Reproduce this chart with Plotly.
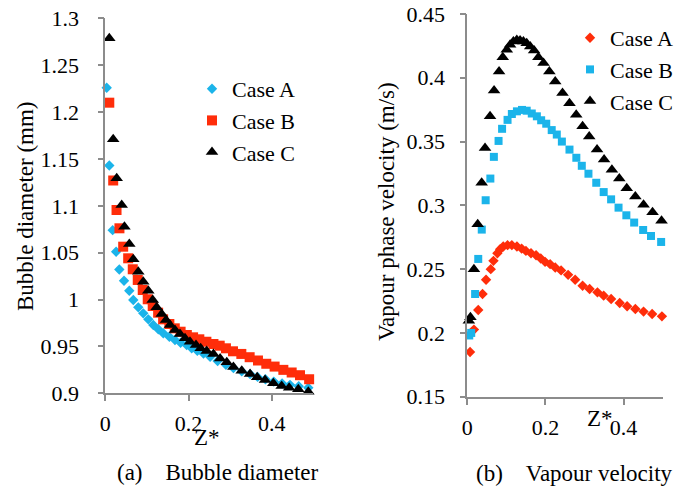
import plotly.graph_objects as go

# ---------------- (a) Bubble diameter ----------------
a_zA = [0.0034, 0.0096, 0.0177, 0.026, 0.0337, 0.045, 0.0577, 0.0673, 0.0793, 0.0913,
        0.1034, 0.1154, 0.1274, 0.1394, 0.154, 0.1675, 0.181, 0.1956, 0.2077, 0.2212,
        0.236, 0.252, 0.27, 0.29, 0.308, 0.328, 0.348, 0.366, 0.385, 0.405,
        0.425, 0.444, 0.465, 0.488]
a_dA = [1.226, 1.143, 1.074, 1.051, 1.032, 1.02, 1.0094, 0.9995, 0.9917, 0.9853,
        0.9789, 0.9729, 0.9683, 0.964, 0.9604, 0.9569, 0.954, 0.9515, 0.948, 0.9454,
        0.9425, 0.939, 0.9345, 0.9305, 0.927, 0.9235, 0.9205, 0.9175, 0.915, 0.9125,
        0.9105, 0.909, 0.9075, 0.906]

a_zB = [0.0096, 0.019, 0.027, 0.034, 0.043, 0.055, 0.066, 0.078, 0.09, 0.102,
        0.114, 0.127, 0.139, 0.154, 0.167, 0.181, 0.196, 0.211, 0.226, 0.243,
        0.26, 0.275, 0.29, 0.307, 0.327, 0.347, 0.367, 0.387, 0.407, 0.428,
        0.448, 0.468, 0.49]
a_dB = [1.21, 1.127, 1.0955, 1.076, 1.0564, 1.044, 1.0323, 1.0209, 1.0102, 1.0003,
        0.9931, 0.986, 0.9789, 0.9739, 0.9693, 0.9657, 0.9622, 0.9597, 0.9576, 0.955,
        0.9526, 0.9508, 0.948, 0.9448, 0.942, 0.9385, 0.935, 0.9315, 0.9285, 0.925,
        0.9222, 0.9193, 0.915]

a_zC = [0.0096, 0.019, 0.0274, 0.0394, 0.046, 0.0577, 0.0673, 0.0793, 0.0913, 0.1034,
        0.114, 0.1235, 0.1356, 0.146, 0.1555, 0.1675, 0.1796, 0.1916, 0.2036, 0.218,
        0.2293, 0.2437, 0.26, 0.276, 0.292, 0.308, 0.328, 0.348, 0.365, 0.384,
        0.404, 0.424, 0.442, 0.464, 0.488]
a_dC = [1.2787, 1.1709, 1.1293, 1.1009, 1.0777, 1.0593, 1.043, 1.0297, 1.019, 1.0094,
        0.9995, 0.9917, 0.9846, 0.9782, 0.9729, 0.9675, 0.9632, 0.9587, 0.955, 0.9515,
        0.948, 0.9451, 0.942, 0.937, 0.933, 0.9281, 0.9241, 0.9206, 0.917, 0.9142,
        0.9107, 0.9078, 0.906, 0.9043, 0.9017]

# ---------------- (b) Vapour velocity ----------------
b_zA = [0.007, 0.017, 0.028, 0.039, 0.048, 0.06, 0.067, 0.077, 0.084, 0.092,
        0.103, 0.114, 0.127, 0.139, 0.15, 0.163, 0.176, 0.188, 0.199, 0.212,
        0.225, 0.24, 0.258, 0.276, 0.295, 0.313, 0.333, 0.349, 0.368, 0.39,
        0.409, 0.43, 0.451, 0.473, 0.498]
b_vA = [0.185, 0.2026, 0.218, 0.2305, 0.2417, 0.25, 0.2565, 0.2625, 0.2656, 0.2677,
        0.2688, 0.2688, 0.2677, 0.2661, 0.2643, 0.2625, 0.2609, 0.2583, 0.2557, 0.2539,
        0.2513, 0.249, 0.2455, 0.2417, 0.237, 0.2344, 0.2318, 0.2292, 0.2266, 0.2234,
        0.2209, 0.2188, 0.2167, 0.2148, 0.213]

b_zB = [0.005, 0.01, 0.02, 0.028, 0.037, 0.047, 0.059, 0.068, 0.08, 0.089,
        0.103, 0.114, 0.127, 0.14, 0.152, 0.165, 0.178, 0.189, 0.202, 0.216,
        0.229, 0.242, 0.2615, 0.279, 0.293, 0.31, 0.33, 0.349, 0.368, 0.387,
        0.407, 0.427, 0.45, 0.47, 0.496]
b_vB = [0.198, 0.2, 0.2305, 0.258, 0.281, 0.304, 0.321, 0.338, 0.3505, 0.36,
        0.367, 0.3716, 0.3737, 0.3748, 0.3742, 0.372, 0.3698, 0.3667, 0.364, 0.359,
        0.3555, 0.35, 0.3437, 0.3373, 0.331, 0.3248, 0.3177, 0.3104, 0.3047, 0.2982,
        0.2922, 0.2865, 0.2807, 0.276, 0.2713]

b_zC = [0.004, 0.008, 0.017, 0.0266, 0.0368, 0.0454, 0.0582, 0.0685, 0.0813, 0.0907,
        0.101, 0.1095, 0.118, 0.1267, 0.135, 0.1436, 0.152, 0.161, 0.171, 0.182,
        0.195, 0.21, 0.225, 0.2436, 0.2615, 0.2787, 0.295, 0.312, 0.332, 0.35,
        0.37, 0.389, 0.408, 0.43, 0.451, 0.474, 0.497]
b_vC = [0.2096, 0.2122, 0.25, 0.2852, 0.3177, 0.345, 0.3698, 0.39, 0.405, 0.416,
        0.422, 0.4258, 0.4284, 0.4297, 0.4292, 0.4284, 0.4271, 0.4245, 0.4214, 0.416,
        0.4115, 0.405, 0.397, 0.388, 0.38, 0.371, 0.362, 0.354, 0.3437, 0.336,
        0.328, 0.321, 0.3135, 0.307, 0.3005, 0.2945, 0.288]

series_names = ["Case A", "Case B", "Case C"]

a_yticks = [0.9, 0.95, 1.0, 1.05, 1.1, 1.15, 1.2, 1.25, 1.3]
a_yticktext = ["0.9", "0.95", "1", "1.05", "1.1", "1.15", "1.2", "1.25", "1.3"]
b_yticks = [0.15, 0.2, 0.25, 0.3, 0.35, 0.4, 0.45]
b_yticktext = ["0.15", "0.2", "0.25", "0.3", "0.35", "0.4", "0.45"]
xticks = [0, 0.2, 0.4]
xticktext = ["0", "0.2", "0.4"]

BLUE = "#1BB4EA"
RED = "#FF2D0A"
BLACK = "#000000"
AXC = "#8C8C8C"
FONT = "Liberation Serif"
W, H = 697, 489

fig = go.Figure()

# left panel
fig.add_trace(go.Scatter(x=a_zA, y=a_dA, mode="markers", name=series_names[0],
                         marker=dict(symbol="diamond", size=8, color=BLUE),
                         xaxis="x", yaxis="y", legend="legend", cliponaxis=False))
fig.add_trace(go.Scatter(x=a_zB, y=a_dB, mode="markers", name=series_names[1],
                         marker=dict(symbol="square", size=10, color=RED),
                         xaxis="x", yaxis="y", legend="legend", cliponaxis=False))
fig.add_trace(go.Scatter(x=a_zC, y=a_dC, mode="markers", name=series_names[2],
                         marker=dict(symbol="triangle-up", size=11, color=BLACK),
                         xaxis="x", yaxis="y", legend="legend", cliponaxis=False))

# right panel
fig.add_trace(go.Scatter(x=b_zA, y=b_vA, mode="markers", name=series_names[0],
                         marker=dict(symbol="diamond", size=8, color=RED),
                         xaxis="x2", yaxis="y2", legend="legend2", cliponaxis=False))
fig.add_trace(go.Scatter(x=b_zB, y=b_vB, mode="markers", name=series_names[1],
                         marker=dict(symbol="square", size=8, color=BLUE),
                         xaxis="x2", yaxis="y2", legend="legend2", cliponaxis=False))
fig.add_trace(go.Scatter(x=b_zC, y=b_vC, mode="markers", name=series_names[2],
                         marker=dict(symbol="triangle-up", size=11, color=BLACK),
                         xaxis="x2", yaxis="y2", legend="legend2", cliponaxis=False))


def px_x(p):
    return p / W


def px_y(p):
    return 1 - p / H


tickfont = dict(family=FONT, size=22, color="black")
common_axis = dict(showline=True, linecolor=AXC, linewidth=1.6, ticks="outside",
                   tickcolor=AXC, tickwidth=1.6, ticklen=6, showgrid=False,
                   zeroline=False, tickfont=tickfont, fixedrange=True, automargin=False)

fig.update_layout(
    width=W, height=H,
    margin=dict(l=0, r=0, t=0, b=0, autoexpand=False),
    paper_bgcolor="white", plot_bgcolor="white",
    font=dict(family=FONT, size=22, color="black"),
    xaxis=dict(domain=[px_x(105.3), px_x(313.3)], range=[0, 0.5], anchor="y",
               tickvals=xticks, ticktext=xticktext, ticklabelstandoff=3, **common_axis),
    yaxis=dict(domain=[px_y(393.3), px_y(18.3)], range=[0.9, 1.3], anchor="x",
               tickvals=a_yticks, ticktext=a_yticktext, ticklabelstandoff=14, **common_axis),
    xaxis2=dict(domain=[px_x(467.3), px_x(662.7)], range=[0, 0.5], anchor="y2",
                tickvals=xticks, ticktext=xticktext, ticklabelstandoff=4, **common_axis),
    yaxis2=dict(domain=[px_y(396.7), px_y(14)], range=[0.15, 0.45], anchor="x2",
                tickvals=b_yticks, ticktext=b_yticktext, ticklabelstandoff=10, **common_axis),
    legend=dict(x=px_x(192), y=px_y(68), xanchor="left", yanchor="top",
                bgcolor="rgba(0,0,0,0)", font=dict(family=FONT, size=22, color="black"),
                itemwidth=30, tracegroupgap=0),
    legend2=dict(x=px_x(570), y=px_y(17), xanchor="left", yanchor="top",
                 bgcolor="rgba(0,0,0,0)", font=dict(family=FONT, size=22, color="black"),
                 itemwidth=30, tracegroupgap=0),
    showlegend=True,
)

ann_font = dict(family=FONT, size=23, color="black")
annotations = [
    dict(text="Bubble diameter (mm)", x=px_x(26), y=px_y(206), textangle=-90),
    dict(text="Vapour phase velocity (m/s)", x=px_x(386), y=px_y(212), textangle=-90),
    dict(text="Z*", x=px_x(207), y=px_y(437)),
    dict(text="Z*", x=px_x(600), y=px_y(418)),
    dict(text="(a)\u00a0\u00a0\u00a0\u00a0Bubble diameter", x=px_x(218), y=px_y(472)),
    dict(text="(b)\u00a0\u00a0\u00a0\u00a0Vapour velocity", x=px_x(574), y=px_y(473)),
]
for a in annotations:
    fig.add_annotation(xref="paper", yref="paper", showarrow=False,
                       xanchor="center", yanchor="middle", font=ann_font, **a)

fig.write_html("out.html")
